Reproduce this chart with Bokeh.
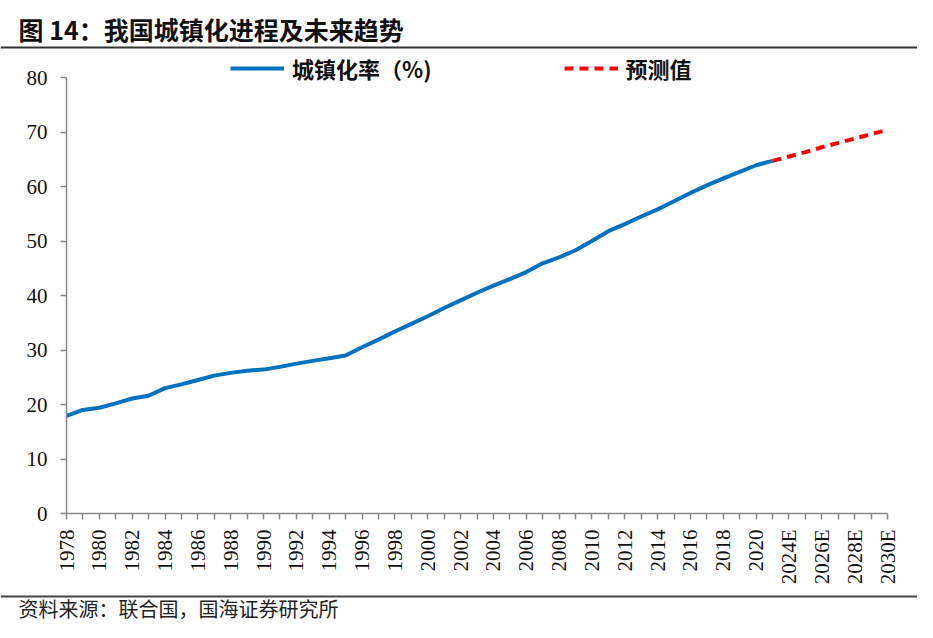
from bokeh.plotting import figure
from bokeh.models import Range1d, FixedTicker, Legend, LegendItem, Label, Span
from bokeh.embed import file_html
from bokeh.resources import INLINE
import math

# ---------------- data ----------------
categories = ["1978", "1979", "1980", "1981", "1982", "1983", "1984", "1985", "1986", "1987",
              "1988", "1989", "1990", "1991", "1992", "1993", "1994", "1995", "1996", "1997",
              "1998", "1999", "2000", "2001", "2002", "2003", "2004", "2005", "2006", "2007",
              "2008", "2009", "2010", "2011", "2012", "2013", "2014", "2015", "2016", "2017",
              "2018", "2019", "2020", "2021", "2024E", "2025E", "2026E", "2027E", "2028E",
              "2029E", "2030E"]
urban_rate = [17.9, 19.0, 19.4, 20.2, 21.1, 21.6, 23.0, 23.7, 24.5, 25.3,
              25.8, 26.2, 26.4, 26.9, 27.5, 28.0, 28.5, 29.0, 30.5, 31.9,
              33.4, 34.8, 36.2, 37.7, 39.1, 40.5, 41.8, 43.0, 44.3, 45.9,
              47.0, 48.3, 50.0, 51.8, 53.1, 54.5, 55.8, 57.3, 58.8, 60.2,
              61.5, 62.7, 63.9, 64.7]
forecast_cats = ["2021", "2024E", "2025E", "2026E", "2027E", "2028E", "2029E", "2030E"]
forecast = [64.7, 65.5, 66.3, 67.2, 68.0, 68.8, 69.6, 70.4]
y_ticks = [0, 10, 20, 30, 40, 50, 60, 70, 80]
y_min, y_max = 0, 80

title_text = "图 14：我国城镇化进程及未来趋势"
source_text = "资料来源：联合国，国海证券研究所"
legend_actual = "城镇化率（%)"
legend_forecast = "预测值"

# ---------------- layout (canvas pixels) ----------------
W, H = 917, 622
PL, PR, PT, PB = 66, 887, 77, 513      # plot area edges
CJK = "Noto Sans CJK SC"
SERIF = "Liberation Serif"
AXIS_COLOR = "#888888"

n_last = len(categories) - 1
kx = (PR - PL) / n_last
ky = (PB - PT) / (y_max - y_min)
x_start = -PL / kx
x_end = n_last + (W - PR) / kx
y_start = y_min - (H - PB) / ky
y_end = y_max + PT / ky


def ydata(py):
    return y_min + (PB - py) / ky


actual_x = list(range(len(urban_rate)))
forecast_x = [categories.index(c) for c in forecast_cats]

p = figure(width=W, height=H, x_range=Range1d(x_start, x_end), y_range=Range1d(y_start, y_end),
           toolbar_location=None, output_backend="svg", min_border=0)
p.outline_line_color = None
p.xgrid.visible = False
p.ygrid.visible = False

r_actual = p.line(actual_x, urban_rate, line_color="#0070C0", line_width=4, line_join="round")
r_fore = p.line(forecast_x, forecast, line_color="#FF0000", line_width=4, line_dash="9 6")

even = [i for i in range(len(categories)) if i % 2 == 0]
odd = [i for i in range(len(categories)) if i % 2 == 1]
p.xaxis.ticker = FixedTicker(ticks=even, minor_ticks=odd)
p.xaxis.major_label_overrides = {i: categories[i] for i in even}
p.xaxis.major_label_orientation = math.pi / 2
p.xaxis.fixed_location = y_min
p.xaxis.bounds = (0, n_last)
p.yaxis.ticker = FixedTicker(ticks=y_ticks, minor_ticks=[])
p.yaxis.fixed_location = 0
p.yaxis.bounds = (y_min, y_max)

for ax in (p.xaxis[0], p.yaxis[0]):
    ax.axis_line_color = AXIS_COLOR
    ax.axis_line_width = 1.5
    ax.major_tick_line_color = AXIS_COLOR
    ax.major_tick_line_width = 1.5
    ax.minor_tick_line_color = AXIS_COLOR
    ax.minor_tick_line_width = 1.5
    ax.major_tick_in = 0
    ax.major_tick_out = 6
    ax.minor_tick_in = 0
    ax.minor_tick_out = 6
    ax.major_label_text_font = SERIF
    ax.major_label_text_font_size = "21px"
    ax.major_label_text_color = "#111111"
p.xaxis.major_label_standoff = 10
p.yaxis.major_label_standoff = 13

legend = Legend(items=[LegendItem(label=legend_actual, renderers=[r_actual]),
                       LegendItem(label=legend_forecast, renderers=[r_fore])],
                location=(PL + 164, H - 73 - 11), orientation="horizontal",
                glyph_width=54, glyph_height=22, label_height=22, label_standoff=8,
                spacing=132, padding=0, margin=0,
                label_text_font=CJK, label_text_font_style="bold", label_text_font_size="22px",
                label_text_color="#111111", border_line_color=None, background_fill_alpha=0)
p.add_layout(legend)

# title, separators and source
p.add_layout(Label(x=18, y=H - 28, x_units="screen", y_units="screen", text=title_text,
                   text_font=CJK, text_font_style="bold", text_font_size="25px",
                   text_baseline="middle", text_align="left", text_color="#111111"))
p.add_layout(Span(location=ydata(47), dimension="width", line_color="#333333", line_width=2))
p.add_layout(Span(location=ydata(596), dimension="width", line_color="#444444", line_width=2))
p.add_layout(Label(x=18, y=H - 608, x_units="screen", y_units="screen", text=source_text,
                   text_font=CJK, text_font_size="20px",
                   text_baseline="middle", text_align="left", text_color="#222222"))

open("out.html", "w").write(file_html(p, INLINE))
